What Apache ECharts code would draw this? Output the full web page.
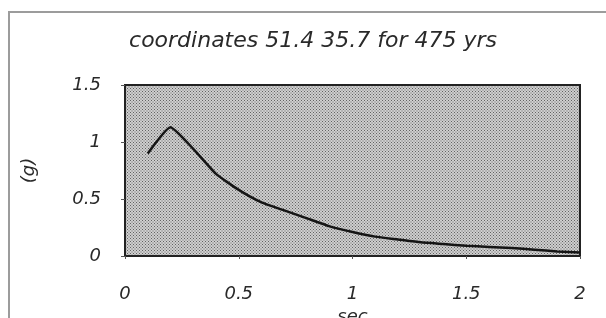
<!DOCTYPE html>
<html>
<head>
<meta charset="utf-8">
<script src="https://cdn.jsdelivr.net/npm/echarts@6/dist/echarts.min.js"></script>
<style>
html,body{margin:0;padding:0;background:#fff;}
#chart{width:606px;height:318px;}
</style>
</head>
<body>
<div id="chart"></div>
<script>
// Data
var titleText = 'coordinates 51.4 35.7 for 475 yrs';
var xName = 'sec';
var yName = '(g)';
var periods = [0.1, 0.2, 0.3, 0.4, 0.5, 0.6, 0.7, 0.8, 0.9, 1.0, 1.1, 1.2, 1.3, 1.4, 1.5, 1.6, 1.7, 1.8, 1.9, 2.0];
var accel   = [0.90, 1.13, 0.94, 0.72, 0.58, 0.47, 0.40, 0.33, 0.26, 0.21, 0.17, 0.145, 0.12, 0.105, 0.09, 0.08, 0.07, 0.055, 0.04, 0.03];

var seriesData = periods.map(function (p, i) { return [p, accel[i]]; });

// stippled background tile
var tile = document.createElement('canvas');
tile.width = 3; tile.height = 3;
var tc = tile.getContext('2d');
var shades = [['#b4b4b4','#cfcfcf','#b4b4b4'],['#cfcfcf','#626262','#cfcfcf'],['#b4b4b4','#cfcfcf','#b4b4b4']];
for (var r = 0; r < 3; r++) for (var c = 0; c < 3; c++) { tc.fillStyle = shades[r][c]; tc.fillRect(c, r, 1, 1); }

var chart = echarts.init(document.getElementById('chart'), null, {renderer: 'canvas'});
var italicFont = 'DejaVu Sans';
chart.setOption({
  animation: false,
  backgroundColor: '#ffffff',
  title: {
    text: titleText,
    left: 308,
    top: 25,
    textAlign: 'center',
    textStyle: {fontFamily: italicFont, fontStyle: 'italic', fontWeight: 'normal', fontSize: 22, color: '#2a2a2a'}
  },
  graphic: [{
    type: 'rect',
    shape: {x: 9, y: 12, width: 700, height: 400},
    style: {fill: 'none', stroke: '#9c9c9c', lineWidth: 2},
    silent: true
  }],
  grid: {
    left: 125, right: 26, top: 85, bottom: 62,
    outerBoundsMode: 'none',
    containLabel: false,
    show: true,
    backgroundColor: {image: tile, repeat: 'repeat'},
    borderColor: '#222',
    borderWidth: 2
  },
  xAxis: {
    type: 'value', min: 0, max: 2, interval: 0.5,
    name: xName, nameLocation: 'middle', nameGap: 50,
    nameTextStyle: {fontFamily: italicFont, fontStyle: 'italic', fontSize: 18, color: '#2a2a2a'},
    axisLine: {show: true, lineStyle: {color: '#222', width: 2}},
    axisTick: {show: true, length: 3, lineStyle: {color: '#555'}},
    axisLabel: {margin: 29, fontFamily: italicFont, fontStyle: 'italic', fontSize: 18, color: '#2a2a2a'},
    splitLine: {show: false}
  },
  yAxis: {
    type: 'value', min: 0, max: 1.5, interval: 0.5,
    name: yName, nameLocation: 'middle', nameGap: 87, nameRotate: 90,
    nameTextStyle: {fontFamily: italicFont, fontStyle: 'italic', fontSize: 18, color: '#2a2a2a'},
    axisLine: {show: true, lineStyle: {color: '#222', width: 2}},
    axisTick: {show: true, length: 4, lineStyle: {color: '#555'}},
    axisLabel: {margin: 24, fontFamily: italicFont, fontStyle: 'italic', fontSize: 18, color: '#2a2a2a'},
    splitLine: {show: false}
  },
  series: [{
    type: 'line',
    data: seriesData,
    showSymbol: false,
    smooth: 0.15,
    lineStyle: {color: '#151515', width: 2.5}
  }]
});
</script>
</body>
</html>
